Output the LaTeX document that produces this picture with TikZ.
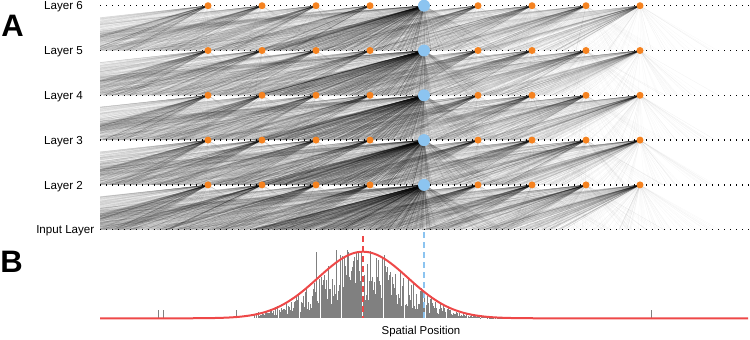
\documentclass[tikz,border=0pt]{standalone}
\usepackage{fontspec}
\setmainfont{Liberation Sans}
\definecolor{dotorange}{RGB}{245,130,31}
\definecolor{dotblue}{RGB}{140,196,240}
\definecolor{curvered}{RGB}{238,72,72}
\definecolor{histgray}{RGB}{128,128,128}
\begin{document}
\begin{tikzpicture}[x=1pt,y=-1pt,
  layerline/.style={line width=1.4pt, dash pattern=on 1.4pt off 4.6pt, black},
  orangedot/.style={circle, fill=dotorange, inner sep=0pt, minimum size=7pt},
  bluedot/.style={circle, fill=dotblue, inner sep=0pt, minimum size=12pt},
  fanline/.style={line width=0.25pt, black},
  layerlabel/.style={anchor=base east, font=\fontsize{11.6}{13}\selectfont, inner sep=0pt},
  panellabel/.style={font=\fontsize{31}{31}\selectfont\bfseries, inner sep=0pt},
  histbar/.style={fill=histgray},
  reddash/.style={curvered, line width=2pt, dash pattern=on 6pt off 4pt},
  bluedash/.style={dotblue, line width=2pt, dash pattern=on 6pt off 4pt},
]
\useasboundingbox (0,0) rectangle (750,340);
\pgfmathsetseed{12345}
% unit coordinates
\foreach \b in {0,...,4}{
  \pgfmathsetmacro{\yu}{5.7+44.8*\b}
  \foreach \xn in {208,262,316,370,424,478,532,586,640}{
    \coordinate (c\b-\xn) at (\xn,\yu);
  }
}
% fans
\begin{scope}
\clip (100,0) rectangle (750,231);
\foreach \b in {0,...,4}{
  \pgfmathsetmacro{\yl}{5.7+44.8*\b+44.8}
  \foreach \xn in {208,262,316,370,478,532,586,640}{
    \foreach \n/\lo/\hi/\op in {100/-165/-75/0.08, 70/-420/-165/0.045, 25/-75/0/0.045, 25/0/80/0.03}{
      \pgfmathtruncatemacro{\nn}{\n*(1+0.1*\b)}
      \foreach \j in {1,...,\nn}{
        \pgfmathsetmacro{\tx}{\xn + \lo + (\hi-\lo)*rnd}
        \draw[fanline, draw opacity=\op] (c\b-\xn) -- (\tx,\yl);
      }
    }
  }
  \foreach \n/\lo/\hi/\op in {260/250/400/0.13, 80/400/432/0.1, 110/-150/250/0.055, 70/432/505/0.05}{
    \pgfmathtruncatemacro{\nn}{\n*(1+0.12*\b)}
    \foreach \j in {1,...,\nn}{
      \pgfmathsetmacro{\tx}{\lo + (\hi-\lo)*rnd}
      \draw[fanline, draw opacity=\op] (c\b-424) -- (\tx,\yl);
    }
  }
}
\end{scope}
% layer lines
\foreach \b/\lab in {0/Layer 6,1/Layer 5,2/Layer 4,3/Layer 3,4/Layer 2}{
  \pgfmathsetmacro{\yu}{5.7+44.8*\b}
  \draw[layerline] (100,\yu) -- (750,\yu);
  \node[layerlabel] (lab\b) at (83,\yu+4.2) {\lab};
}
\draw[layerline] (100,229.7) -- (750,229.7);
\node[layerlabel] (labin) at (94.5,233.9) {Input Layer};
% dots
\foreach \b in {0,...,4}{
  \foreach \xn in {208,262,316,370,478,532,586,640}{
    \node[orangedot] (d\b-\xn) at (c\b-\xn) {};
  }
  \node[bluedot] (d\b-424) at (c\b-424) {};
}
% panel labels
\node[panellabel] (A) at (12.5,26) {A};
\node[panellabel] (B) at (11.5,262) {B};
% histogram
\foreach \i in {0,...,240}{
  \pgfmathsetmacro{\x}{258+\i*1.05}
  \pgfmathsetmacro{\dd}{(\x-363)/45}
  \pgfmathsetmacro{\g}{66.6*exp(-0.5*\dd*\dd)}
  \pgfmathsetmacro{\h}{\g*(0.25+0.85*rnd)}
  \fill[histbar] (\x-0.5,318.3) rectangle (\x+0.5,318.3-\h);
}
\foreach \x/\h in {158/8,163/8,236/8,254/4,256/5,258/6,262/6,266/7,270/9,275/11,316/66,336/68,651/8}{
  \fill[histbar] (\x-0.5,318.3) rectangle (\x+0.5,318.3-\h);
}
\coordinate (redtop) at (363,236);
\coordinate (redbot) at (363,318.3);
\coordinate (bluetop) at (424,232);
\coordinate (bluebot) at (424,318.3);
\draw[reddash] (redtop) -- (redbot);
\draw[bluedash] (bluetop) -- (bluebot);
\draw[curvered, line width=2pt] plot[domain=100:748, samples=240] (\x, {318.3-66.6*exp(-0.5*((\x-363)/45)*((\x-363)/45))});
\node[font=\fontsize{11.4}{13}\selectfont, inner sep=0pt] (xlab) at (421,332) {Spatial Position};
\end{tikzpicture}
\end{document}
